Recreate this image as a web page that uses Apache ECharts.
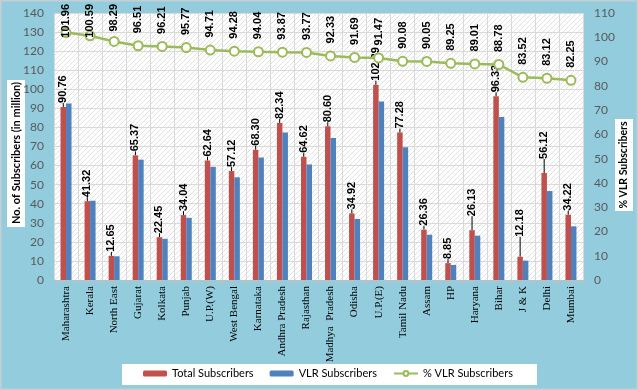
<!DOCTYPE html>
<html><head><meta charset="utf-8">
<script src="https://cdn.jsdelivr.net/npm/echarts@6/dist/echarts.min.js"></script>
<style>html,body{margin:0;padding:0;background:#fff}#c{width:638px;height:390px}</style>
</head><body><div id="c"></div>
<script>
const categories = ['Maharashtra','Kerala','North East','Gujarat','Kolkata','Punjab','U.P.(W)','West Bengal','Karnataka','Andhra Pradesh','Rajasthan','Madhya  Pradesh','Odisha','U.P.(E)','Tamil Nadu','Assam','HP','Haryana','Bihar','J & K','Delhi','Mumbai'];
const totalSubs = [90.76,41.32,12.65,65.37,22.45,34.04,62.64,57.12,68.30,82.34,64.62,80.60,34.92,102.39,77.28,26.36,8.85,26.13,96.33,12.18,56.12,34.22];
const vlrSubs = [92.54,41.56,12.43,63.09,21.60,32.60,59.33,53.85,64.23,77.29,60.59,74.42,32.02,93.66,69.61,23.74,7.90,23.26,85.52,10.17,46.65,28.15];
const vlrPct = [101.96,100.59,98.29,96.51,96.21,95.77,94.71,94.28,94.04,93.87,93.77,92.33,91.69,91.47,90.08,90.05,89.25,89.01,88.78,83.52,83.12,82.25];
const leftTicks = {min:0, max:140, interval:10};
const rightTicks = {min:0, max:110, interval:10};

// hatch pattern for plot background
const pc = document.createElement('canvas');
pc.width = 5; pc.height = 5;
const g = pc.getContext('2d');
g.fillStyle = '#ffffff'; g.fillRect(0,0,5,5);
g.strokeStyle = '#e2e2e2'; g.lineWidth = 1;
g.beginPath(); g.moveTo(0,5); g.lineTo(5,0); g.stroke();
g.beginPath(); g.moveTo(-1,1); g.lineTo(1,-1); g.stroke();
g.beginPath(); g.moveTo(4,6); g.lineTo(6,4); g.stroke();

const mc = document.createElement('canvas').getContext('2d');
mc.font = 'bold 11px "Liberation Sans"';

const chart = echarts.init(document.getElementById('c'), null, {renderer:'canvas'});
const lblFont = {fontFamily:'Liberation Sans', fontWeight:'bold', fontSize:11, color:'#000'};
// upward shift (px) for labels drawn with a leader line
const leaderShift = {17:10, 19:16, 20:10};
const LINE_LBL_DIST = 7;
chart.setOption({
  backgroundColor:'#93CDDD',
  animation:false,
  grid:{left:54, right:55, top:13, bottom:110, show:true, borderWidth:0,
        backgroundColor:{image:pc, repeat:'repeat'}},
  xAxis:{type:'category', data:categories, boundaryGap:true,
    axisLine:{lineStyle:{color:'#bfbfbf', width:1}},
    axisTick:{show:true, length:5, lineStyle:{color:'#bfbfbf'}},
    splitLine:{show:true, lineStyle:{color:'#d9d9d9', width:1}},
    axisLabel:{rotate:90, margin:6, interval:0, fontFamily:'Liberation Serif', fontSize:11, color:'#000'}},
  yAxis:[
    {type:'value', min:leftTicks.min, max:leftTicks.max, interval:leftTicks.interval,
     axisLine:{show:false}, axisTick:{show:false},
     splitLine:{lineStyle:{color:'#d9d9d9', width:1}},
     axisLabel:{margin:10, fontFamily:'Lato', fontSize:12, color:'#595959'}},
    {type:'value', min:rightTicks.min, max:rightTicks.max, interval:rightTicks.interval,
     axisLine:{show:false}, axisTick:{show:false}, splitLine:{show:false},
     axisLabel:{margin:11, fontFamily:'Lato', fontSize:12, color:'#595959'}}
  ],
  legend:{left:143, top:368, padding:0, itemWidth:24, itemHeight:6, itemGap:16,
    textStyle:{fontFamily:'Lato', fontSize:11, color:'#000'},
    data:['Total Subscribers','VLR Subscribers','% VLR Subscribers']},
  graphic:[
    {type:'rect', z:-1, shape:{x:122, y:364, width:415, height:21}, style:{fill:'#fff'}},
    {type:'rect', shape:{x:7, y:80, width:18, height:147}, style:{fill:'#fff'}},
    {type:'text', x:16, y:153, rotation:Math.PI/2,
     style:{text:'No. of Subscribers (in million)', fill:'#000', font:'bold 11px Lato', textAlign:'center', textVerticalAlign:'middle'}},
    {type:'rect', shape:{x:615, y:119, width:18, height:92}, style:{fill:'#fff'}},
    {type:'text', x:624, y:165, rotation:Math.PI/2,
     style:{text:'% VLR Subscribers', fill:'#000', font:'bold 10.5px Lato', textAlign:'center', textVerticalAlign:'middle'}},
    {type:'rect', shape:{x:0.5, y:0.5, width:637, height:389}, style:{fill:'none', stroke:'#c4cfd3', lineWidth:2}}
  ],
  series:[
    {name:'Total Subscribers', type:'bar', data:totalSubs, barWidth:5.5, barGap:'0%',
     itemStyle:{color:'#C0504D'},
     label:{show:true, position:'top', distance:4, rotate:90, align:'left', verticalAlign:'middle',
       formatter:p=>p.value.toFixed(2), ...lblFont},
     labelLine:{show:true, lineStyle:{color:'#000', width:1}},
     labelLayout:function(p){ if(leaderShift[p.dataIndex]!==undefined) return {dx:leaderShift[p.dataIndex]}; return {}; }},
    {name:'VLR Subscribers', type:'bar', data:vlrSubs, barWidth:5.5, barGap:'0%',
     itemStyle:{color:'#4F81BD'}},
    {name:'% VLR Subscribers', type:'line', yAxisIndex:1, data:vlrPct,
     symbol:'circle', symbolSize:9,
     lineStyle:{color:'#9BBB59', width:2.5},
     itemStyle:{color:'#fff', borderColor:'#9BBB59', borderWidth:2},
     label:{show:true, position:'top', distance:LINE_LBL_DIST, rotate:90, align:'left', verticalAlign:'middle',
       formatter:p=>p.value.toFixed(2), ...lblFont},
     labelLayout:function(p){
       const r = p.rect; if(!r) return {};
       const len = mc.measureText(p.text).width;
       const top = r.y - LINE_LBL_DIST - len;
       if (top < 4) return {dx: -(4 - top)};
       return {};
     }}
  ]
});
</script></body></html>
